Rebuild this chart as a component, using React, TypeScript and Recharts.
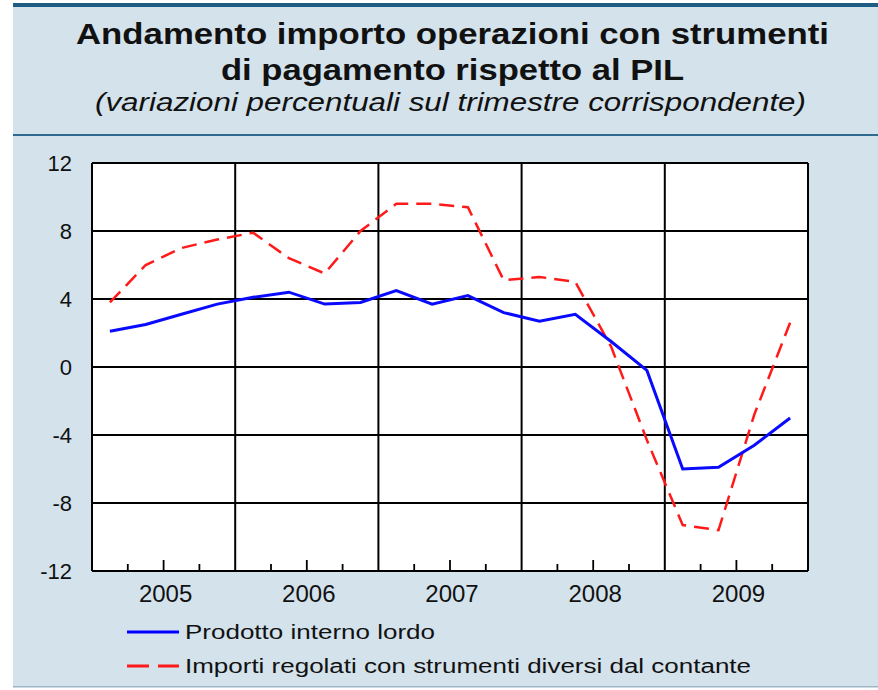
import { LineChart, Line, XAxis, YAxis, CartesianGrid, ReferenceLine } from "recharts";

// quarterly values, 2005 Q1 .. 2009 Q4
const QUARTERS = [
  "2005 T1", "2005 T2", "2005 T3", "2005 T4",
  "2006 T1", "2006 T2", "2006 T3", "2006 T4",
  "2007 T1", "2007 T2", "2007 T3", "2007 T4",
  "2008 T1", "2008 T2", "2008 T3", "2008 T4",
  "2009 T1", "2009 T2", "2009 T3", "2009 T4",
];
const PIL = [2.1, 2.5, 3.1, 3.7, 4.1, 4.4, 3.7, 3.8, 4.5, 3.7, 4.2, 3.2, 2.7, 3.1, 1.5, -0.2, -6.0, -5.9, -4.6, -3.0];
const IMPORTI = [3.8, 6.0, 7.0, 7.5, 7.9, 6.4, 5.5, 8.0, 9.6, 9.6, 9.4, 5.1, 5.3, 5.0, 1.2, -4.3, -9.3, -9.6, -2.8, 2.6];
const YEARS = ["2005", "2006", "2007", "2008", "2009"];
const Y_TICKS = [-12, -8, -4, 0, 4, 8, 12];

const YEAR_LINES = [0, 4, 8, 12, 16, 20];
const QUARTER_TICKS = Array.from({ length: 19 }, (_, i) => i + 1).filter((v) => v % 4 !== 0);

const data = QUARTERS.map((q, i) => ({ q, pos: i + 0.5, pil: PIL[i], importi: IMPORTI[i] }));

const FONT = "'Liberation Sans', Arial, Helvetica, sans-serif";
const BG = "#d3e2eb";

const QuarterTick = ({ x, y, payload }: any) => {
  const v = payload.value;
  const mid = v % 4 === 2;
  return (
    <g>
      <line x1={x} x2={x} y1={y} y2={y - (mid ? 11 : 7)} stroke="#000" strokeWidth={1.8} />
      {mid && (
        <text x={x + 2} y={y + 31} textAnchor="middle" fontSize={24} fill="#111" fontFamily={FONT}>
          {YEARS[(v - 2) / 4]}
        </text>
      )}
    </g>
  );
};

const LeftTick = ({ x, y, payload }: any) => (
  <text x={x - 20} y={y} dy="0.36em" textAnchor="end" fontSize={22} fill="#111" fontFamily={FONT}>
    {payload.value}
  </text>
);

const RightTick = ({ x, y, payload }: any) => (
  <text x={x + 57} y={y} dy="0.36em" textAnchor="end" fontSize={22} fill="#111" fontFamily={FONT}>
    {payload.value}
  </text>
);

export default function App() {
  return (
    <div style={{ position: "absolute", left: 0, top: 0, width: 878, height: 690, background: "#fff", fontFamily: FONT }}>
      <svg width={878} height={690} style={{ position: "absolute", left: 0, top: 0 }}>
        <rect x={13} y={6} width={865} height={681} fill={BG} />
        <rect x={13} y={3} width={865} height={4} fill="#1d5d84" />
        <rect x={13} y={134} width={865} height={2} fill="#2f6b90" />
        <rect x={13} y={686} width={865} height={1.5} fill="#9db5c4" />

        <text x={76} y={44} fontSize={29} fontWeight="bold" fill="#111"
          textLength={753} lengthAdjust="spacingAndGlyphs">
          Andamento importo operazioni con strumenti
        </text>
        <text x={221} y={80} fontSize={29} fontWeight="bold" fill="#111"
          textLength={463} lengthAdjust="spacingAndGlyphs">
          di pagamento rispetto al PIL
        </text>
        <text x={95} y={111} fontSize={25} fontStyle="italic" fill="#111"
          textLength={711} lengthAdjust="spacingAndGlyphs">
          (variazioni percentuali sul trimestre corrispondente)
        </text>

        <line x1={127} x2={179} y1={632} y2={632} stroke="#0000ff" strokeWidth={3} />
        <text x={185} y={639} fontSize={20} fill="#111" textLength={250} lengthAdjust="spacingAndGlyphs">
          Prodotto interno lordo
        </text>
        <line x1={127} x2={179} y1={666} y2={666} stroke="#ff1a1a" strokeWidth={3} strokeDasharray="22 9" />
        <text x={185} y={673} fontSize={20} fill="#111" textLength={566} lengthAdjust="spacingAndGlyphs">
          Importi regolati con strumenti diversi dal contante
        </text>
      </svg>

      <div style={{ position: "absolute", left: 0, top: 0 }}>
        <LineChart width={878} height={690} data={data}
          margin={{ top: 163, right: 10, left: 32, bottom: 79 }}>
          <CartesianGrid vertical={false} stroke="#000" strokeWidth={2} fill="#fff" fillOpacity={1} />
          {YEAR_LINES.map((v) => (
            <ReferenceLine key={v} x={v} stroke="#000" strokeWidth={2} />
          ))}
          <XAxis dataKey="pos" type="number" domain={[0, 20]} ticks={QUARTER_TICKS}
            interval={0} height={40} axisLine={false} tickLine={false}
            tickSize={0} tickMargin={0} tick={<QuarterTick />} />
          <YAxis domain={[-12, 12]} ticks={Y_TICKS} width={60} axisLine={false}
            tickLine={false} tickSize={0} tickMargin={0} tick={<LeftTick />} />
          <YAxis yAxisId="r" orientation="right" domain={[-12, 12]} ticks={Y_TICKS} width={60}
            axisLine={false} tickLine={false} tickSize={0} tickMargin={0} tick={<RightTick />} />
          <Line type="linear" dataKey="importi" stroke="#ff1a1a" strokeWidth={2.5}
            strokeDasharray="15 8" dot={false} isAnimationActive={false} />
          <Line type="linear" dataKey="pil" stroke="#0a0aff" strokeWidth={3}
            dot={false} isAnimationActive={false} />
        </LineChart>
      </div>
    </div>
  );
}
